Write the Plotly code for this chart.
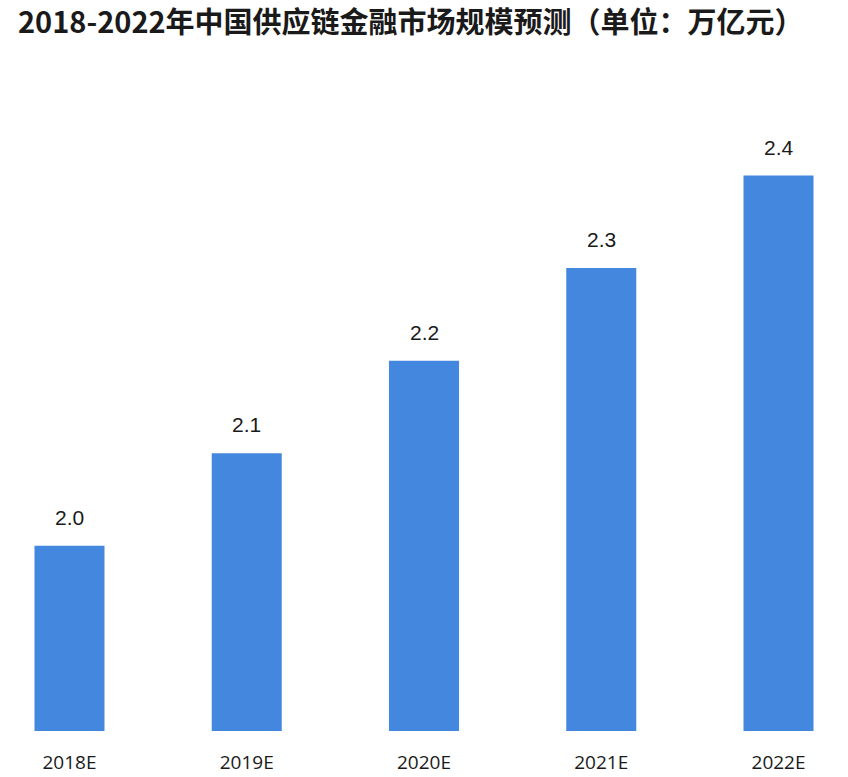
import plotly.graph_objects as go

categories = ["2018E", "2019E", "2020E", "2021E", "2022E"]
values = [2.0, 2.1, 2.2, 2.3, 2.4]
value_labels = ["2.0", "2.1", "2.2", "2.3", "2.4"]
title_text = "2018-2022年中国供应链金融市场规模预测（单位：万亿元）"

W, H = 848, 777

fig = go.Figure()
fig.add_trace(go.Bar(
    x=list(range(len(categories))),
    y=values,
    width=0.395,
    marker=dict(color="#4487DF", line=dict(width=0)),
    hoverinfo="skip",
))

for i, (v, lab) in enumerate(zip(values, value_labels)):
    fig.add_annotation(
        x=i, y=v, text=lab, showarrow=False,
        yanchor="bottom", yshift=15,
        font=dict(family="Liberation Sans, Arial, sans-serif", size=21, color="#1a1a1a"),
    )

fig.update_layout(
    width=W, height=H,
    margin=dict(l=0, r=0, t=60, b=46),
    paper_bgcolor="white", plot_bgcolor="white",
    showlegend=False,
    title=dict(
        text=title_text,
        x=18 / W, xanchor="left", xref="paper",
        yref="container", y=1 - 23 / H, yanchor="middle",
        font=dict(family="Noto Sans CJK SC", size=29, color="#1a1a1a", weight="bold"),
    ),
    xaxis=dict(
        range=[-0.392, 4.392],
        tickmode="array",
        tickvals=list(range(len(categories))),
        ticktext=categories,
        showgrid=False, zeroline=False, showline=False,
        ticks="", ticklabelstandoff=18,
        tickfont=dict(family="Open Sans, sans-serif", size=19, color="#1a1a1a"),
    ),
    yaxis=dict(
        range=[1.8, 2.5248],
        visible=False,
        showgrid=False, zeroline=False,
    ),
)

fig.write_html(
    "out.html",
    config={"displayModeBar": False},
    post_script="document.body.style.margin='0';",
)
